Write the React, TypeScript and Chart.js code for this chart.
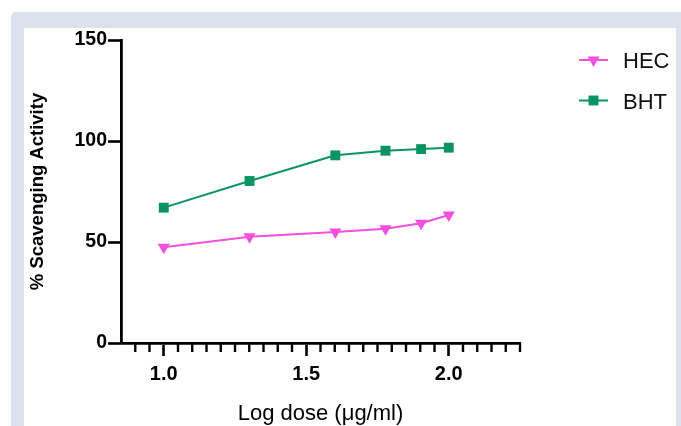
import React, { useEffect, useRef } from 'react';
import { Chart, registerables } from 'chart.js';

Chart.register(...registerables);

// ---- data ----
const seriesNames = ['HEC', 'BHT'];
const logDose = [1.0, 1.301, 1.602, 1.778, 1.903, 2.0];
const hecValues = [47.4, 52.6, 54.9, 56.6, 59.3, 63.4];
const bhtValues = [67.0, 80.2, 92.9, 95.2, 96.0, 96.7];
const xMajorTicks = [1.0, 1.5, 2.0];
const xTitle = 'Log dose (μg/ml)';
const yTitle = '% Scavenging Activity';

// ---- styles ----
const HEC_COLOR = '#F54FE0';
const BHT_COLOR = '#0B9462';
const FONT = '"Liberation Sans", Arial, Helvetica, sans-serif';

const isMajor = (v: number) => xMajorTicks.some((m) => Math.abs(m - v) < 1e-6);

const minorTicksPlugin = {
  id: 'minorTicks',
  afterDraw(chart: any) {
    const s = chart.scales.x;
    const ctx = chart.ctx;
    ctx.save();
    ctx.strokeStyle = '#000';
    ctx.lineWidth = 2.4;
    s.ticks.forEach((t: any) => {
      if (isMajor(t.value) || t.value <= s.min + 1e-9) return;
      const px = s.getPixelForValue(t.value);
      ctx.beginPath();
      ctx.moveTo(px, s.top);
      ctx.lineTo(px, s.top + 9);
      ctx.stroke();
    });
    ctx.restore();
  },
};

const legendPlugin = {
  id: 'customLegend',
  afterDraw(chart: any) {
    const ctx = chart.ctx;
    const x0 = 579;
    const x1 = 608;
    const textX = 623;
    chart.data.datasets.forEach((ds: any, i: number) => {
      const y = 60 + i * 40.5;
      const cx = (x0 + x1) / 2;
      ctx.save();
      ctx.strokeStyle = ds.borderColor;
      ctx.lineWidth = 2;
      ctx.beginPath();
      ctx.moveTo(x0, y);
      ctx.lineTo(x1, y);
      ctx.stroke();
      ctx.fillStyle = ds.pointBackgroundColor;
      const r = ds.pointRadius;
      ctx.beginPath();
      if (ds.pointStyle === 'triangle') {
        const h = (r * Math.sqrt(3)) / 2;
        ctx.moveTo(cx - h, y - r / 2);
        ctx.lineTo(cx + h, y - r / 2);
        ctx.lineTo(cx, y + r);
        ctx.closePath();
      } else {
        const s = Math.SQRT1_2 * r;
        ctx.rect(cx - s, y - s, 2 * s, 2 * s);
      }
      ctx.fill();
      ctx.fillStyle = '#111';
      ctx.font = `22px ${FONT}`;
      ctx.textAlign = 'left';
      ctx.textBaseline = 'alphabetic';
      ctx.fillText(ds.label, textX, y + 8);
      ctx.restore();
    });
  },
};

export default function App() {
  const canvasRef = useRef<HTMLCanvasElement | null>(null);

  useEffect(() => {
    const canvas = canvasRef.current;
    if (!canvas) return;
    const chart = new Chart(canvas, {
      type: 'line',
      data: {
        datasets: [
          {
            label: seriesNames[0],
            data: logDose.map((x, i) => ({ x, y: hecValues[i] })),
            borderColor: HEC_COLOR,
            backgroundColor: HEC_COLOR,
            pointBackgroundColor: HEC_COLOR,
            pointBorderColor: HEC_COLOR,
            pointBorderWidth: 0,
            pointStyle: 'triangle',
            rotation: 180,
            pointRadius: 7,
            borderWidth: 2,
            tension: 0,
          } as any,
          {
            label: seriesNames[1],
            data: logDose.map((x, i) => ({ x, y: bhtValues[i] })),
            borderColor: BHT_COLOR,
            backgroundColor: BHT_COLOR,
            pointBackgroundColor: BHT_COLOR,
            pointBorderColor: BHT_COLOR,
            pointBorderWidth: 0,
            pointStyle: 'rect',
            pointRadius: 7,
            borderWidth: 2,
            tension: 0,
          } as any,
        ],
      },
      options: {
        animation: false,
        responsive: false,
        maintainAspectRatio: false,
        layout: { padding: { left: 0, top: 40, right: 161, bottom: 0 } },
        plugins: {
          legend: { display: false },
          tooltip: { enabled: false },
        },
        scales: {
          x: {
            type: 'linear',
            min: 0.85,
            max: 2.25,
            afterFit: (s: any) => {
              s.height = 83;
            },
            ticks: {
              stepSize: 0.05,
              autoSkip: false,
              maxRotation: 0,
              padding: 6,
              color: '#000',
              font: { family: FONT, size: 20, weight: 'bold' },
              callback: (v: any) => (isMajor(Number(v)) ? Number(v).toFixed(1) : ''),
            },
            grid: {
              drawOnChartArea: false,
              drawTicks: true,
              tickLength: 13,
              tickWidth: 2.6,
              tickColor: (c: any) => (c.tick && isMajor(c.tick.value) ? '#000' : 'rgba(0,0,0,0)'),
            },
            border: { display: true, color: '#000', width: 2.8 },
            title: {
              display: true,
              text: xTitle,
              color: '#000',
              font: { family: FONT, size: 22, lineHeight: 1 },
              padding: { top: 0, bottom: 1 },
            },
          } as any,
          y: {
            type: 'linear',
            min: 0,
            max: 150,
            afterFit: (s: any) => {
              s.width = 121;
            },
            ticks: {
              stepSize: 50,
              padding: 1,
              color: '#000',
              font: { family: FONT, size: 19.5, weight: 'bold' },
            },
            grid: {
              drawOnChartArea: false,
              drawTicks: true,
              tickLength: 13,
              tickWidth: 2.6,
              tickColor: '#000',
            },
            border: { display: true, color: '#000', width: 2.8 },
            title: {
              display: true,
              text: yTitle,
              color: '#000',
              font: { family: FONT, size: 18.5, weight: 'bold', lineHeight: 1 },
              padding: { top: 29, bottom: 0 },
            },
          } as any,
        },
      },
      plugins: [minorTicksPlugin, legendPlugin],
    });
    return () => chart.destroy();
  }, []);

  return (
    <div style={{ position: 'fixed', left: 0, top: 0, width: 681, height: 426, background: '#fff', overflow: 'hidden' }}>
      <div
        style={{
          position: 'absolute',
          left: 11,
          top: 12,
          width: 700,
          height: 450,
          background: '#DDE1EE',
          borderRadius: 5,
        }}
      />
      <div style={{ position: 'absolute', left: 24, top: 28, width: 652, height: 420, background: '#fff' }} />
      <canvas
        ref={canvasRef}
        width={681}
        height={426}
        style={{ position: 'absolute', left: 0, top: 0, width: 681, height: 426 }}
      />
    </div>
  );
}
